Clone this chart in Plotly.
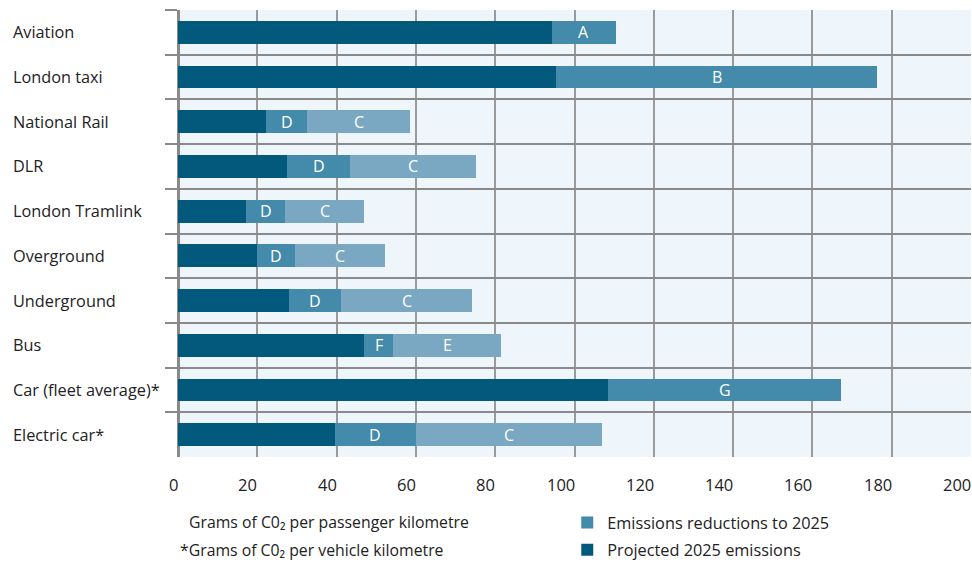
import plotly.graph_objects as go

categories = ["Aviation", "London taxi", "National Rail", "DLR", "London Tramlink",
              "Overground", "Underground", "Bus", "Car (fleet average)*", "Electric car*"]
projected = [94.2, 95.4, 22.3, 27.4, 17.2, 19.8, 27.9, 47.0, 108.5, 39.7]
reduction_1 = [16.3, 80.9, 10.3, 16.1, 9.9, 9.8, 13.3, 7.3, 58.8, 20.2]
reduction_1_labels = ["A", "B", "D", "D", "D", "D", "D", "F", "G", "D"]
reduction_2 = [0, 0, 26.0, 31.7, 19.9, 22.5, 33.0, 27.2, 0, 47.1]
reduction_2_labels = ["", "", "C", "C", "C", "C", "C", "E", "", "C"]
x_ticks = [0, 20, 40, 60, 80, 100, 120, 140, 160, 180, 200]

W, H = 972, 564
L, R, T, B = 177.5, 1, 9.5, 106.5
PW, PH = W - L - R, H - T - B

def px(x):
    return (x - L) / PW

def py(y):
    return (H - B - y) / PH

FONT = "Open Sans"
DARK = "#02597c"
MID = "#448aaa"
LIGHT = "#7aa8c2"
TXT = "#222222"

fig = go.Figure()
fig.add_trace(go.Bar(
    y=categories, x=projected, orientation="h", name="Projected 2025 emissions",
    marker=dict(color=DARK, line=dict(width=0)), legendrank=2, legendgroup="p",
))
fig.add_trace(go.Bar(
    y=categories, x=reduction_1, orientation="h", name="Emissions reductions to 2025",
    marker=dict(color=MID, line=dict(width=0)), legendrank=1, legendgroup="r",
    customdata=reduction_1_labels,
))
fig.add_trace(go.Bar(
    y=categories, x=reduction_2, orientation="h", name="Further reductions",
    marker=dict(color=LIGHT, line=dict(width=0)), showlegend=False, legendgroup="r2",
    customdata=reduction_2_labels,
))

annotations = []
# segment letters, centred on each segment
for c, p, r1, l1, r2, l2 in zip(categories, projected, reduction_1, reduction_1_labels,
                                 reduction_2, reduction_2_labels):
    if l1:
        annotations.append(dict(x=p + r1 / 2, xref="x", y=c, yref="y", text=l1,
                                showarrow=False, xanchor="center", yanchor="middle",
                                font=dict(family=FONT, size=16, color="white")))
    if l2:
        annotations.append(dict(x=p + r1 + r2 / 2, xref="x", y=c, yref="y", text=l2,
                                showarrow=False, xanchor="center", yanchor="middle",
                                font=dict(family=FONT, size=16, color="white")))
for c in categories:
    annotations.append(dict(
        x=px(10), xref="paper", y=c, yref="y", text=c, showarrow=False,
        xanchor="left", yanchor="middle", font=dict(family=FONT, size=16.3, color=TXT),
    ))
for t in x_ticks:
    annotations.append(dict(
        x=t, xref="x", y=py(485), yref="paper", text=str(t), showarrow=False,
        xanchor="right", yanchor="middle", xshift=2,
        font=dict(family=FONT, size=16.5, color=TXT),
    ))
annotations.append(dict(
    x=px(187), xref="paper", y=py(523), yref="paper",
    text="Grams of C0₂ per passenger kilometre", showarrow=False,
    xanchor="left", yanchor="middle", font=dict(family=FONT, size=15.8, color=TXT),
))
annotations.append(dict(
    x=px(178), xref="paper", y=py(551), yref="paper",
    text="*Grams of C0₂ per vehicle kilometre", showarrow=False,
    xanchor="left", yanchor="middle", font=dict(family=FONT, size=15.8, color=TXT),
))

fig.update_layout(
    width=W, height=H,
    margin=dict(l=L, r=R, t=T, b=B, pad=0, autoexpand=False),
    barmode="stack", bargap=0.49,
    paper_bgcolor="white", plot_bgcolor="#eef6fc",
    font=dict(family=FONT, color=TXT),
    showlegend=True,
    legend=dict(
        x=px(567), y=py(506), xanchor="left", yanchor="top",
        orientation="v", font=dict(family=FONT, size=16.3, color=TXT),
        bgcolor="rgba(0,0,0,0)", traceorder="grouped", tracegroupgap=3,
    ),
    annotations=annotations,
    xaxis=dict(
        range=[0, 200], tickvals=x_ticks, showticklabels=False, ticks="",
        showgrid=True, gridcolor="#9a9a9a", gridwidth=1.5,
        zeroline=True, zerolinecolor="#8a8a8a", zerolinewidth=3,
        showline=False, fixedrange=True,
    ),
    yaxis=dict(
        categoryorder="array", categoryarray=categories, range=[9.5, -0.5],
        tickson="boundaries", ticks="outside", ticklen=12, tickwidth=2, tickcolor="#8a8a8a",
        showgrid=True, gridcolor="#8a8a8a", gridwidth=2,
        showticklabels=False, showline=False, zeroline=False, fixedrange=True,
    ),
)

fig.write_html("out.html")
